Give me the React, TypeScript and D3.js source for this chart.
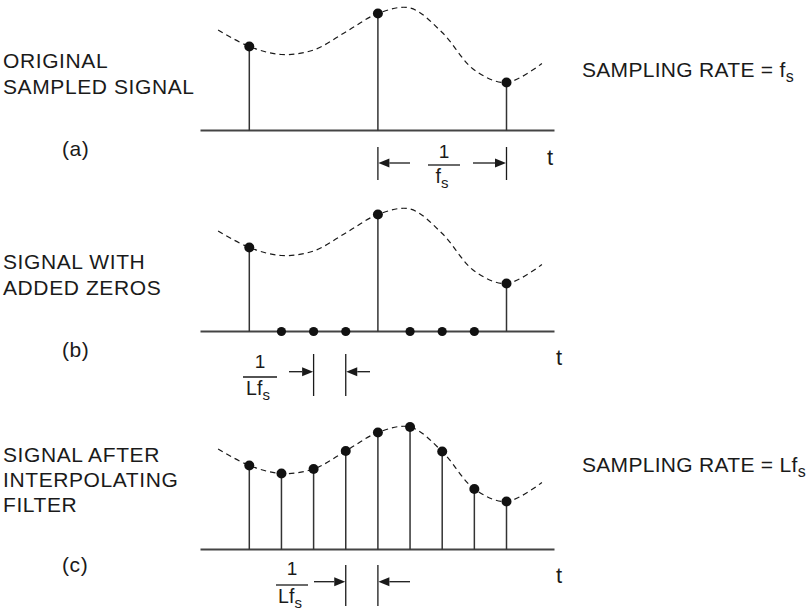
import React from "react";
import * as d3 from "d3";

// ---- data ----
const SAMPLE_INDEX = [0, 1, 2, 3, 4, 5, 6, 7, 8];
const SIGNAL_VALUES = [84, 76, 80.5, 98.5, 117, 122.5, 98, 60.5, 48];
const ORIGINAL_INDEX = [0, 4, 8];
const ZERO_INDEX = [1, 2, 3, 5, 6, 7];
const CURVE_X = [-0.97, 0, 1, 2, 3, 4, 5, 6, 7, 8, 9.1];
const CURVE_Y = [100.5, 84, 76, 80.5, 98.5, 117, 122.5, 98, 60.5, 48, 67];
const PANEL_LETTERS = ["(a)", "(b)", "(c)"];
const PANEL_LABELS = [
  ["ORIGINAL", "SAMPLED SIGNAL"],
  ["SIGNAL WITH", "ADDED ZEROS"],
  ["SIGNAL AFTER", "INTERPOLATING", "FILTER"],
];

const FONT = "'Liberation Sans', Arial, Helvetica, sans-serif";
const INK = "#1a1a1a";

const x = d3.scaleLinear().domain([0, 8]).range([249.3, 506.5]);
const yFor = (base: number) => d3.scaleLinear().domain([0, 125]).range([base, base - 125]);

const curvePts: [number, number][] = CURVE_X.map((v, i) => [v, CURVE_Y[i]]);

function Arrow({ from, tip, y }: { from: number; tip: number; y: number }) {
  const dir = Math.sign(tip - from);
  const L = 11, H = 4.5;
  return (
    <g>
      <line x1={from} x2={tip - dir * L} y1={y} y2={y} stroke={INK} strokeWidth={1.3} />
      <path d={`M${tip},${y} L${tip - dir * L},${y - H} L${tip - dir * L},${y + H} Z`} fill={INK} />
    </g>
  );
}

function Panel({ base, stems, zeros }: { base: number; stems: number[]; zeros: number[] }) {
  const y = yFor(base);
  const line = d3
    .line<[number, number]>()
    .x((d) => x(d[0]))
    .y((d) => y(d[1]))
    .curve(d3.curveCatmullRom.alpha(0.5));
  return (
    <g>
      <path d={line(curvePts) || ""} fill="none" stroke={INK} strokeWidth={1.2} strokeDasharray="5.5,4" />
      <line x1={200.5} x2={554.5} y1={base} y2={base} stroke="#444" strokeWidth={2} />
      {stems.map((i) => (
        <line key={"s" + i} x1={x(i)} x2={x(i)} y1={base} y2={y(SIGNAL_VALUES[i])} stroke="#333" strokeWidth={1.5} />
      ))}
      {stems.map((i) => (
        <circle key={"c" + i} cx={x(i)} cy={y(SIGNAL_VALUES[i])} r={5} fill="#111" />
      ))}
      {zeros.map((i) => (
        <circle key={"z" + i} cx={x(i)} cy={base} r={4.6} fill="#111" />
      ))}
    </g>
  );
}

function Frac({ cx, top, den, barY, w }: { cx: number; top: number; den: string; barY: number; w: number }) {
  return (
    <g fontFamily={FONT} fill={INK}>
      <text x={cx} y={top} fontSize={19} textAnchor="middle">1</text>
      <line x1={cx - w / 2} x2={cx + w / 2} y1={barY} y2={barY} stroke={INK} strokeWidth={1.3} />
      <text x={cx - 2} y={barY + 17.5} fontSize={19.5} textAnchor="middle">
        {den}
        <tspan fontSize={15} dy={5}>s</tspan>
      </text>
    </g>
  );
}

export default function App() {
  const bases = [130.5, 331.5, 549.5];
  return (
    <svg width={808} height={612} style={{ position: "absolute", left: 0, top: 0, background: "#fff" }}>
      <rect width={808} height={612} fill="#fff" />
      <Panel base={bases[0]} stems={ORIGINAL_INDEX} zeros={[]} />
      <Panel base={bases[1]} stems={ORIGINAL_INDEX} zeros={ZERO_INDEX} />
      <Panel base={bases[2]} stems={SAMPLE_INDEX} zeros={[]} />

      {/* left labels */}
      <g fontFamily={FONT} fill={INK} fontSize={21} letterSpacing={0.6}>
        {PANEL_LABELS[0].map((t, i) => (
          <text key={t} x={3} y={68.3 + i * 25.7}>{t}</text>
        ))}
        {PANEL_LABELS[1].map((t, i) => (
          <text key={t} x={3} y={269.3 + i * 25.7}>{t}</text>
        ))}
        {PANEL_LABELS[2].map((t, i) => (
          <text key={t} x={3} y={462.3 + i * 25}>{t}</text>
        ))}
        <text x={62} y={156}>{PANEL_LETTERS[0]}</text>
        <text x={62} y={357}>{PANEL_LETTERS[1]}</text>
        <text x={62} y={572}>{PANEL_LETTERS[2]}</text>
      </g>

      {/* t labels */}
      <g fontFamily={FONT} fill={INK} fontSize={22}>
        <text x={547} y={165}>t</text>
        <text x={556} y={365}>t</text>
        <text x={556} y={583}>t</text>
      </g>

      {/* sampling rate labels */}
      <g fontFamily={FONT} fill={INK} fontSize={21} letterSpacing={0.3}>
        <text x={582} y={77}>
          SAMPLING RATE = f<tspan fontSize={16} dy={5}>s</tspan>
        </text>
        <text x={582} y={472}>
          SAMPLING RATE = Lf<tspan fontSize={16} dy={5}>s</tspan>
        </text>
      </g>

      {/* panel (a) dimension */}
      <line x1={x(4)} x2={x(4)} y1={147} y2={180} stroke={INK} strokeWidth={1.3} />
      <line x1={x(8)} x2={x(8)} y1={147} y2={180} stroke={INK} strokeWidth={1.3} />
      <Arrow from={410} tip={x(4) + 0.5} y={163} />
      <Arrow from={473} tip={x(8) - 0.5} y={163} />
      <Frac cx={444} top={157.5} den="f" barY={165} w={32} />

      {/* panel (b) dimension */}
      <line x1={x(2)} x2={x(2)} y1={354} y2={396} stroke={INK} strokeWidth={1.3} />
      <line x1={x(3)} x2={x(3)} y1={354} y2={396} stroke={INK} strokeWidth={1.3} />
      <Arrow from={289} tip={x(2) - 0.5} y={371.7} />
      <Arrow from={370} tip={x(3) + 0.5} y={371.7} />
      <Frac cx={260} top={368} den="Lf" barY={377} w={34} />

      {/* panel (c) dimension */}
      <line x1={x(3)} x2={x(3)} y1={565} y2={606} stroke={INK} strokeWidth={1.3} />
      <line x1={x(4)} x2={x(4)} y1={565} y2={606} stroke={INK} strokeWidth={1.3} />
      <Arrow from={314} tip={x(3) - 0.5} y={581.7} />
      <Arrow from={410} tip={x(4) + 0.5} y={581.7} />
      <Frac cx={292} top={575} den="Lf" barY={585} w={32} />
    </svg>
  );
}
